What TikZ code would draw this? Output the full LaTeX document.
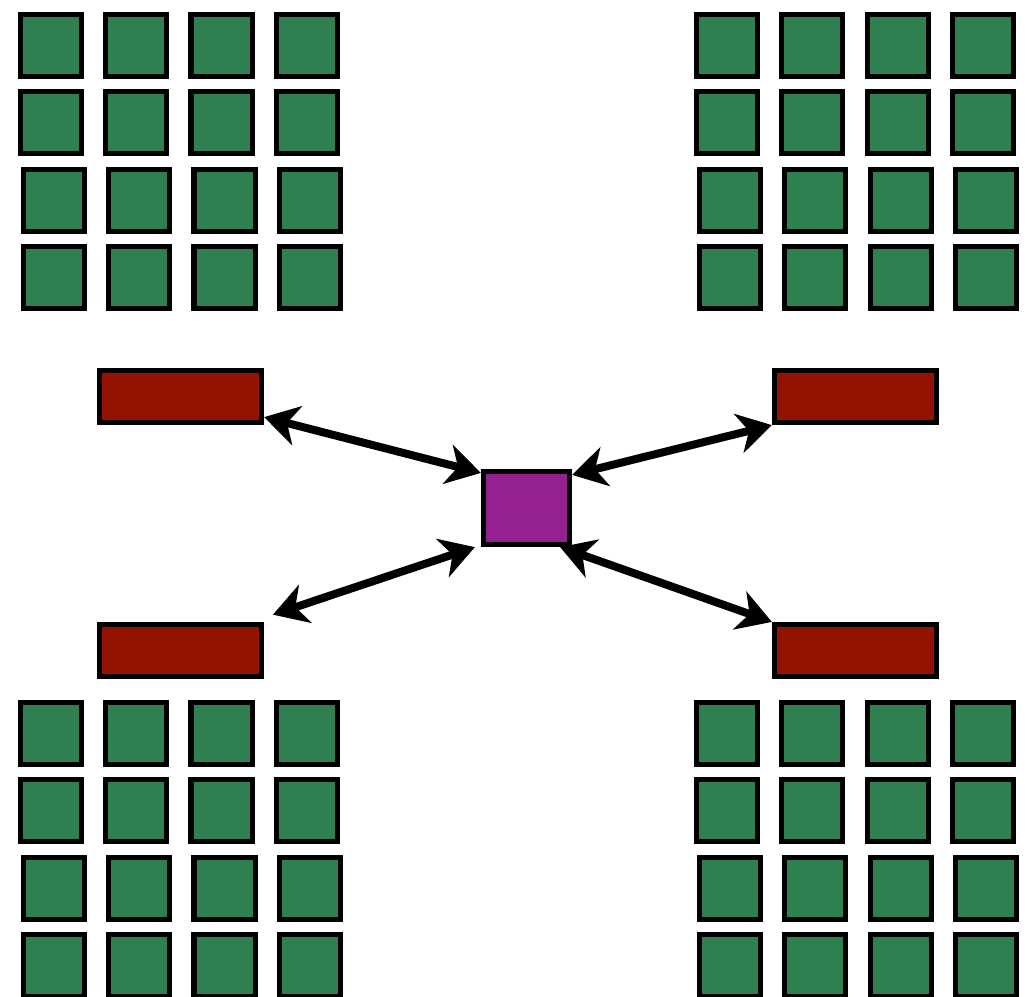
\documentclass[tikz,border=0pt]{standalone}
\usepackage{tikz}
\usetikzlibrary{arrows.meta,positioning}
\definecolor{cellgreen}{RGB}{46,128,80}
\definecolor{barred}{RGB}{148,18,0}
\definecolor{hubpurple}{RGB}{149,32,143}

\begin{document}
\begin{tikzpicture}[
  x=0.025cm, y=-0.025cm,
  cell/.style={draw, line width=0.13cm, fill=cellgreen, inner sep=0pt,
               minimum width=1.525cm, minimum height=1.55cm},
  bar/.style={draw, line width=0.13cm, fill=barred, inner sep=0pt,
              minimum width=4.05cm, minimum height=1.3cm},
  hub/.style={draw, line width=0.13cm, fill=hubpurple, inner sep=0pt,
              minimum width=2.15cm, minimum height=1.825cm},
  link/.style={{Stealth[length=0.85cm,width=1.0cm,inset=0.26cm]}-{Stealth[length=0.85cm,width=1.0cm,inset=0.26cm]},
               line width=0.2cm}
]
\useasboundingbox (0,0) rectangle (1036,996);

% four grids of cells
\foreach \gx/\gy/\gn in {51/45.5/tl, 727/45.5/tr, 51/733.5/bl, 727/733.5/br}
  \foreach \i in {0,...,3}
    \foreach \j in {0,...,3}
      \node[cell] (\gn-\i-\j) at ({\gx+85.3*\j+3*(\i>1)}, {\gy+77.3*\i}) {};

\node[hub] (hub) at (526.5,508) {};
\node[bar] (barTL) at (180.5,396.5) {};
\node[bar] (barTR) at (855.5,396.5) {};
\node[bar] (barBL) at (180.5,650.5) {};
\node[bar] (barBR) at (855.5,650.5) {};

\draw[link] ([yshift=0.2cm]barTL.south east) -- ([yshift=-0.1cm]hub.north west);
\draw[link] ([yshift=-0.15cm]hub.north east) -- (barTR.south west);
\draw[link] ([xshift=0.22cm,yshift=0.18cm]barBL.north east) -- ([xshift=-0.15cm]hub.south west);
\draw[link] ([xshift=-0.3cm]hub.south east) -- (barBR.north west);
\end{tikzpicture}
\end{document}
